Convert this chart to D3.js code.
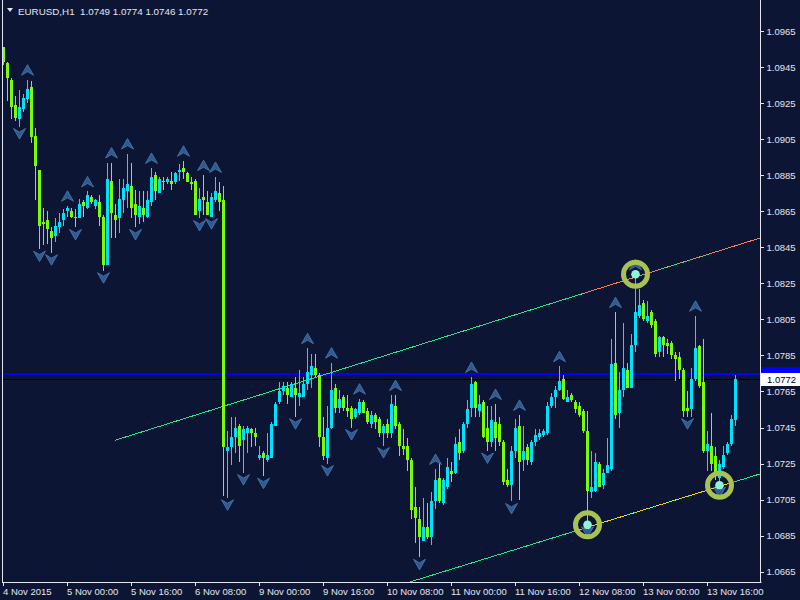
<!DOCTYPE html>
<html><head><meta charset="utf-8">
<script src="https://cdn.jsdelivr.net/npm/d3@7"></script>
<style>html,body{margin:0;padding:0;background:#0c1634;}svg{display:block}</style>
</head><body><svg id="c" width="800" height="600"></svg>
<script>
// ---- data (EURUSD H1, 4 Nov 2015 08:00 .. 13 Nov 2015 23:00) ----
const opens = [1.0956,1.0947,1.0938,1.0924,1.0916,1.0922,1.0927,1.0934,1.0907,1.0888,1.0859,1.0860,1.0854,1.0851,1.0856,1.0860,1.0865,1.0865,1.0862,1.0861,1.0870,1.0867,1.0873,1.0868,1.0870,1.0862,1.0835,1.0882,1.0863,1.0861,1.0871,1.0876,1.0879,1.0869,1.0862,1.0867,1.0862,1.0870,1.0885,1.0875,1.0882,1.0881,1.0882,1.0881,1.0887,1.0889,1.0886,1.0881,1.0882,1.0865,1.0873,1.0870,1.0862,1.0871,1.0875,1.0871,1.0732,1.0734,1.0740,1.0746,1.0738,1.0742,1.0744,1.0742,1.0728,1.0731,1.0727,1.0728,1.0746,1.0759,1.0765,1.0767,1.0762,1.0767,1.0762,1.0762,1.0769,1.0774,1.0778,1.0774,1.0740,1.0728,1.0745,1.0767,1.0756,1.0762,1.0756,1.0756,1.0751,1.0753,1.0759,1.0754,1.0747,1.0752,1.0750,1.0742,1.0747,1.0742,1.0757,1.0747,1.0735,1.0735,1.0727,1.0701,1.0694,1.0682,1.0690,1.0684,1.0704,1.0717,1.0703,1.0712,1.0721,1.0720,1.0737,1.0732,1.0747,1.0756,1.0770,1.0754,1.0759,1.0745,1.0737,1.0748,1.0747,1.0737,1.0716,1.0713,1.0732,1.0746,1.0727,1.0734,1.0726,1.0737,1.0740,1.0741,1.0742,1.0757,1.0762,1.0766,1.0772,1.0759,1.0763,1.0759,1.0757,1.0754,1.0743,1.0709,1.0710,1.0725,1.0713,1.0720,1.0722,1.0781,1.0753,1.0766,1.0777,1.0767,1.0791,1.0807,1.0814,1.0804,1.0809,1.0804,1.0787,1.0795,1.0792,1.0792,1.0785,1.0784,1.0777,1.0756,1.0755,1.0772,1.0790,1.0770,1.0732,1.0735,1.0729,1.0717,1.0723,1.0731,1.0736,1.0749];
const highs = [1.0956,1.0948,1.0939,1.0929,1.0932,1.0930,1.0938,1.0937,1.0911,1.0888,1.0867,1.0865,1.0856,1.0861,1.0864,1.0866,1.0868,1.0867,1.0866,1.0872,1.0871,1.0876,1.0874,1.0872,1.0874,1.0863,1.0892,1.0892,1.0869,1.0883,1.0883,1.0897,1.0892,1.0877,1.0876,1.0876,1.0876,1.0889,1.0887,1.0884,1.0884,1.0884,1.0887,1.0887,1.0891,1.0893,1.0887,1.0884,1.0883,1.0878,1.0885,1.0876,1.0875,1.0884,1.0881,1.0879,1.0743,1.0751,1.0751,1.0747,1.0746,1.0746,1.0745,1.0745,1.0735,1.0732,1.0742,1.0748,1.0759,1.0770,1.0770,1.0770,1.0770,1.0773,1.0777,1.0773,1.0789,1.0786,1.0786,1.0775,1.0751,1.0757,1.0781,1.0769,1.0766,1.0763,1.0763,1.0757,1.0756,1.0761,1.0760,1.0756,1.0754,1.0753,1.0751,1.0747,1.0750,1.0763,1.0763,1.0748,1.0744,1.0739,1.0728,1.0712,1.0701,1.0706,1.0703,1.0709,1.0722,1.0726,1.0717,1.0728,1.0726,1.0740,1.0744,1.0748,1.0760,1.0773,1.0771,1.0763,1.0760,1.0757,1.0757,1.0758,1.0751,1.0738,1.0722,1.0735,1.0750,1.0752,1.0746,1.0736,1.0738,1.0744,1.0744,1.0744,1.0759,1.0764,1.0768,1.0779,1.0774,1.0766,1.0764,1.0760,1.0759,1.0755,1.0754,1.0732,1.0731,1.0726,1.0722,1.0739,1.0794,1.0809,1.0776,1.0803,1.0781,1.0797,1.0830,1.0822,1.0816,1.0815,1.0810,1.0805,1.0796,1.0796,1.0794,1.0793,1.0787,1.0787,1.0778,1.0765,1.0778,1.0807,1.0791,1.0794,1.0743,1.0753,1.0734,1.0727,1.0735,1.0737,1.0752,1.0774];
const lows = [1.0946,1.0926,1.0916,1.0915,1.0912,1.0920,1.0925,1.0903,1.0871,1.0844,1.0846,1.0847,1.0842,1.0848,1.0853,1.0857,1.0862,1.0861,1.0856,1.0861,1.0862,1.0866,1.0869,1.0866,1.0857,1.0832,1.0835,1.0850,1.0850,1.0853,1.0864,1.0867,1.0861,1.0856,1.0858,1.0859,1.0861,1.0868,1.0871,1.0875,1.0877,1.0880,1.0877,1.0880,1.0882,1.0883,1.0881,1.0877,1.0863,1.0861,1.0863,1.0863,1.0862,1.0870,1.0865,1.0707,1.0706,1.0724,1.0731,1.0726,1.0720,1.0731,1.0734,1.0735,1.0727,1.0718,1.0726,1.0728,1.0746,1.0758,1.0763,1.0758,1.0762,1.0751,1.0757,1.0762,1.0766,1.0767,1.0773,1.0734,1.0727,1.0725,1.0744,1.0753,1.0753,1.0754,1.0751,1.0745,1.0750,1.0752,1.0753,1.0747,1.0745,1.0744,1.0740,1.0735,1.0739,1.0739,1.0744,1.0729,1.0730,1.0721,1.0694,1.0681,1.0673,1.0682,1.0683,1.0680,1.0700,1.0703,1.0702,1.0711,1.0715,1.0719,1.0727,1.0731,1.0745,1.0751,1.0751,1.0751,1.0739,1.0732,1.0734,1.0732,1.0735,1.0713,1.0712,1.0704,1.0728,1.0705,1.0721,1.0724,1.0724,1.0735,1.0738,1.0740,1.0741,1.0756,1.0756,1.0765,1.0760,1.0759,1.0759,1.0753,1.0751,1.0742,1.0691,1.0706,1.0709,1.0712,1.0711,1.0720,1.0721,1.0750,1.0745,1.0762,1.0767,1.0767,1.0787,1.0806,1.0804,1.0803,1.0800,1.0784,1.0784,1.0784,1.0786,1.0783,1.0771,1.0772,1.0751,1.0751,1.0751,1.0771,1.0767,1.0731,1.0721,1.0721,1.0716,1.0713,1.0722,1.0730,1.0735,1.0746];
const closes = [1.0948,1.0939,1.0923,1.0917,1.0923,1.0928,1.0933,1.0906,1.0890,1.0857,1.0858,1.0855,1.0850,1.0857,1.0859,1.0864,1.0867,1.0862,1.0861,1.0869,1.0868,1.0874,1.0870,1.0871,1.0862,1.0835,1.0883,1.0864,1.0860,1.0872,1.0878,1.0880,1.0867,1.0863,1.0868,1.0863,1.0871,1.0884,1.0876,1.0883,1.0881,1.0883,1.0880,1.0886,1.0888,1.0887,1.0881,1.0880,1.0863,1.0872,1.0871,1.0863,1.0873,1.0876,1.0870,1.0734,1.0734,1.0740,1.0745,1.0735,1.0744,1.0745,1.0742,1.0740,1.0730,1.0728,1.0730,1.0747,1.0758,1.0765,1.0768,1.0763,1.0769,1.0763,1.0764,1.0769,1.0776,1.0779,1.0774,1.0740,1.0729,1.0745,1.0766,1.0756,1.0761,1.0756,1.0754,1.0750,1.0755,1.0759,1.0753,1.0748,1.0752,1.0748,1.0742,1.0746,1.0742,1.0758,1.0746,1.0735,1.0733,1.0727,1.0699,1.0695,1.0684,1.0690,1.0684,1.0704,1.0716,1.0704,1.0716,1.0723,1.0719,1.0736,1.0731,1.0747,1.0755,1.0769,1.0756,1.0758,1.0740,1.0737,1.0749,1.0739,1.0737,1.0715,1.0713,1.0732,1.0745,1.0726,1.0732,1.0727,1.0737,1.0741,1.0742,1.0743,1.0757,1.0762,1.0766,1.0771,1.0761,1.0762,1.0760,1.0755,1.0752,1.0743,1.0710,1.0712,1.0726,1.0712,1.0720,1.0724,1.0780,1.0752,1.0766,1.0778,1.0767,1.0791,1.0809,1.0813,1.0805,1.0807,1.0802,1.0786,1.0795,1.0791,1.0790,1.0785,1.0783,1.0777,1.0754,1.0754,1.0772,1.0789,1.0768,1.0732,1.0736,1.0725,1.0720,1.0725,1.0730,1.0736,1.0750,1.0772];

const xTickBars = [0,16,32,48,64,80,96,112,128,144,160,176];
const xTickLabels = ["4 Nov 2015","5 Nov 00:00","5 Nov 16:00","6 Nov 08:00","9 Nov 00:00","9 Nov 16:00","10 Nov 08:00","11 Nov 00:00","11 Nov 16:00","12 Nov 08:00","13 Nov 00:00","13 Nov 16:00"];
const yTickValues = [1.0665,1.0685,1.0705,1.0725,1.0745,1.0765,1.0785,1.0805,1.0825,1.0845,1.0865,1.0885,1.0905,1.0925,1.0945,1.0965];

const upFractalBars = [6,16,21,27,31,37,45,50,53,76,82,89,98,108,117,123,129,139,153,158,173];
const downFractalBars = [4,9,12,18,25,33,49,52,56,60,65,73,81,87,95,104,121,127,146,171,179];

const markedBars = [146,158,179];
const markedSides = ["low","high","low"];

const upperLineBars = [28,180];
const upperLinePrices = [1.07379,1.08437];
const lowerLineBars = [140,180];
const lowerLinePrices = [1.06855,1.07129];

const bidPrice = 1.0772;
const bluePrice = 1.0775;
const headerText = "EURUSD,H1  1.0749 1.0774 1.0746 1.0772";

// ---- drawing ----
const W = 800, H = 600, plotL = 2, plotR = 761, plotB = 582;
const svg = d3.select("#c");
const bg = "#0c1634", fg = "#e4e6ee";
const bull = "#00e0ff", bear = "#7cfc00";
const font = "'Liberation Sans', Arial, sans-serif";

svg.append("rect").attr("width",W).attr("height",H).attr("fill",bg);

const x = d3.scaleLinear().domain([0,1]).range([3,7]);
const y = d3.scaleLinear().domain([1.0665,1.0965]).range([571.7,31]);

svg.append("defs").append("clipPath").attr("id","plot")
  .append("rect").attr("x",plotL).attr("y",0).attr("width",plotR-plotL).attr("height",plotB);
const g = svg.append("g").attr("clip-path","url(#plot)");

// horizontal price lines
const blueY = Math.round(y(bluePrice));
g.append("rect").attr("x",plotL).attr("width",plotR-plotL).attr("y",blueY).attr("height",2)
  .attr("fill","#0000ff").attr("shape-rendering","crispEdges");
const bidY = Math.round(y(bidPrice));
g.append("rect").attr("x",plotL).attr("width",plotR-plotL).attr("y",bidY).attr("height",1)
  .attr("fill","#000000").attr("shape-rendering","crispEdges");

// trend lines
function lineAt(bars, prices, b){ return prices[0] + (prices[1]-prices[0])*(b-bars[0])/(bars[1]-bars[0]); }
const bRight = x.invert(plotR);
const upStart = upperLineBars[0];
const upSeg = [[upStart, lineAt(upperLineBars,upperLinePrices,upStart)],[bRight, lineAt(upperLineBars,upperLinePrices,bRight)]];
const bLeft = x.invert(plotL);
const loSeg = [[bLeft, lineAt(lowerLineBars,lowerLinePrices,bLeft)],[bRight, lineAt(lowerLineBars,lowerLinePrices,bRight)]];
const lineGen = d3.line().x(d=>x(d[0])).y(d=>y(d[1]));
g.append("path").attr("d",lineGen(upSeg)).attr("stroke","#1ee88a").attr("fill","none").attr("shape-rendering","crispEdges");
g.append("path").attr("d",lineGen(loSeg)).attr("stroke","#1ee88a").attr("fill","none").attr("shape-rendering","crispEdges");
// colored portions near the touch points
const upHot = [[145, lineAt(upperLineBars,upperLinePrices,145)],[bRight, lineAt(upperLineBars,upperLinePrices,bRight)]];
g.append("path").attr("d",lineGen(upHot)).attr("stroke","#ff7a50").attr("stroke-dasharray","5,2").attr("fill","none").attr("shape-rendering","crispEdges");
const loHot = [[143, lineAt(lowerLineBars,lowerLinePrices,143)],[182, lineAt(lowerLineBars,lowerLinePrices,182)]];
g.append("path").attr("d",lineGen(loHot)).attr("stroke","#ffd200").attr("stroke-dasharray","6,1").attr("fill","none").attr("shape-rendering","crispEdges");

// candles
const idx = d3.range(opens.length);
const cg = g.append("g").attr("shape-rendering","crispEdges");
cg.selectAll("rect.w").data(idx).join("rect").attr("class","w")
  .attr("x",i=>x(i)).attr("width",1)
  .attr("y",i=>y(highs[i])).attr("height",i=>Math.max(1,y(lows[i])-y(highs[i])))
  .attr("fill",i=>closes[i]>=opens[i]?bull:bear);
cg.selectAll("rect.b").data(idx).join("rect").attr("class","b")
  .attr("x",i=>x(i)-1).attr("width",3)
  .attr("y",i=>y(Math.max(opens[i],closes[i])))
  .attr("height",i=>Math.max(1,Math.abs(y(opens[i])-y(closes[i]))))
  .attr("fill",i=>closes[i]>=opens[i]?bull:bear);

// fractal arrows
const upArrow = "M0,-5.5 L6,5 L0,1.5 L-6,5 Z";
const dnArrow = "M0,5.5 L6,-5 L0,-1.5 L-6,-5 Z";
g.selectAll("path.fu").data(upFractalBars).join("path").attr("class","fu")
  .attr("d",upArrow).attr("transform",b=>`translate(${x(b)+0.5},${y(highs[b])-9.5})`)
  .attr("fill","#2f5a8e").attr("stroke","#4a7cb6").attr("stroke-width",0.8);
g.selectAll("path.fd").data(downFractalBars).join("path").attr("class","fd")
  .attr("d",dnArrow).attr("transform",b=>`translate(${x(b)+0.5},${y(lows[b])+7})`)
  .attr("fill","#2f5a8e").attr("stroke","#4a7cb6").attr("stroke-width",0.8);

// marked touch points
const mk = g.selectAll("g.mk").data(markedBars).join("g").attr("class","mk")
  .attr("transform",(b,k)=>`translate(${x(b)+0.5},${y(markedSides[k]==="low"?lows[b]:highs[b])})`);
mk.append("circle").attr("r",12).attr("fill","none").attr("stroke","#a9c353").attr("stroke-width",5);
mk.append("circle").attr("r",4.3).attr("fill","#8ff5d8");

// frame
svg.append("line").attr("x1",plotL+0.5).attr("x2",plotL+0.5).attr("y1",0).attr("y2",plotB+0.5).attr("stroke",fg);
svg.append("line").attr("x1",plotL).attr("x2",plotR+0.5).attr("y1",plotB+0.5).attr("y2",plotB+0.5).attr("stroke",fg);
svg.append("line").attr("x1",plotR-0.5).attr("x2",plotR-0.5).attr("y1",0).attr("y2",plotB+0.5).attr("stroke",fg);

// right axis
const ya = svg.append("g").attr("transform",`translate(${plotR-0.5},0)`)
  .call(d3.axisRight(y).tickValues(yTickValues).tickSize(3).tickPadding(3).tickFormat(d3.format(".4f")));
ya.select(".domain").remove();
ya.selectAll("line").attr("stroke",fg).attr("shape-rendering","crispEdges");
ya.selectAll("text").attr("fill",fg).attr("font-family",font).attr("font-size","9.5px");

// bottom axis
const xa = svg.append("g").attr("transform",`translate(0,${plotB})`)
  .call(d3.axisBottom(x).tickValues(xTickBars).tickSize(4).tickPadding(2).tickFormat((d,i)=>xTickLabels[i]));
xa.select(".domain").remove();
xa.selectAll("line").attr("stroke",fg).attr("shape-rendering","crispEdges");
xa.selectAll("text").attr("fill",fg).attr("font-family",font).attr("font-size","9.5px").attr("text-anchor","start").attr("dx","-0.5");

// price labels on axis
svg.append("rect").attr("x",plotR).attr("y",blueY-6).attr("width",W-plotR).attr("height",13).attr("fill","#0000ff");
svg.append("rect").attr("x",plotR).attr("y",bidY-6).attr("width",W-plotR).attr("height",13).attr("fill","#ffffff");
svg.append("text").attr("x",plotR+6).attr("y",bidY+4).attr("fill","#000").attr("font-family",font).attr("font-size","9.5px").text(d3.format(".4f")(bidPrice));

// header
svg.append("path").attr("d","M7,8 L13,8 L10,12 Z").attr("fill",fg);
svg.append("text").attr("x",18).attr("y",14.5).attr("fill",fg).attr("font-family",font).attr("font-size","9.8px")
  .attr("xml:space","preserve").style("white-space","pre").text(headerText);
</script></body></html>
